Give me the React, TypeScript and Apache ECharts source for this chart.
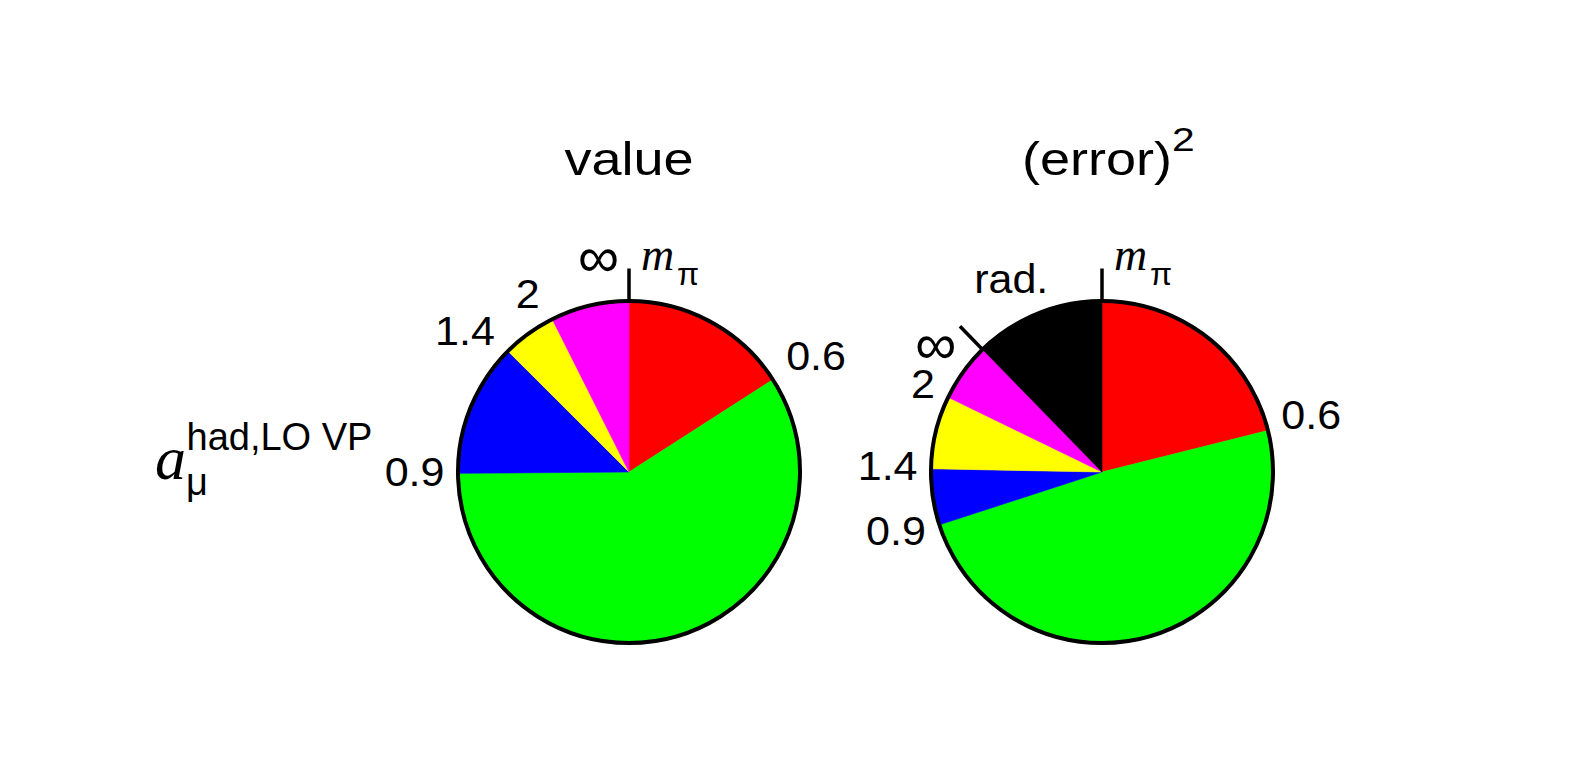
import React, { useEffect, useRef } from "react";
import * as echarts from "echarts";

// ---------- data ----------
const sliceColors = ["#ff0000", "#00ff00", "#0000ff", "#ffff00", "#ff00ff", "#000000"];
const valueSliceNames = ["mπ–0.6 GeV", "0.6–0.9 GeV", "0.9–1.4 GeV", "1.4–2 GeV", "2–∞ GeV"];
const valueShares = [15.9, 58.9, 12.6, 5.1, 7.4];
const errorSliceNames = ["mπ–0.6 GeV", "0.6–0.9 GeV", "0.9–1.4 GeV", "1.4–2 GeV", "2–∞ GeV", "rad."];
const errorShares = [21.1, 48.9, 5.3, 6.9, 5.5, 12.3];
const boundaryLabels = ["0.6", "0.9", "1.4", "2"];
const startLabel = ["m", "π"];
const endLabel = "∞";
const radLabel = "rad.";
const titleTexts = ["value", "(error)", "2"];
const yLabelParts = ["a", "μ", "had,LO VP"];

// ---------- layout / style ----------
const W = 1574;
const H = 765;
const R = 171;
const R_OUT = 172.5;
const SANS = '"Liberation Sans", Arial, Helvetica, sans-serif';
const SERIF = '"Liberation Serif", "Times New Roman", serif';
const LABEL_SIZE = 41;
const LABEL_SCALE = 1.05;
const TITLE_SIZE = 47;
const TITLE_SCALE = 1.15;

const pies = [
  { cx: 629, cy: 472, values: valueShares, names: valueSliceNames },
  { cx: 1102, cy: 472, values: errorShares, names: errorSliceNames },
];

let measureCtx: CanvasRenderingContext2D | null = null;
function textWidth(text: string, size: number, family: string) {
  if (!measureCtx) measureCtx = document.createElement("canvas").getContext("2d");
  if (!measureCtx) return text.length * size * 0.55;
  measureCtx.font = `${size}px ${family}`;
  return measureCtx.measureText(text).width;
}

function polar(cx: number, cy: number, r: number, deg: number) {
  const a = (deg * Math.PI) / 180;
  return [cx + r * Math.sin(a), cy - r * Math.cos(a)];
}

function txt(
  text: string,
  x: number,
  y: number,
  size: number,
  opts: { align?: string; family?: string; italic?: boolean; scaleX?: number } = {}
) {
  const align = opts.align || "center";
  return {
    type: "text",
    x,
    y,
    scaleX: opts.scaleX || 1,
    silent: true,
    style: {
      text,
      fill: "#000",
      fontSize: size,
      fontFamily: opts.family || SANS,
      fontStyle: opts.italic ? "italic" : "normal",
      align,
      textAlign: align,
      verticalAlign: "middle",
      textVerticalAlign: "middle",
    },
  };
}

function tick(cx: number, cy: number, deg: number) {
  const [x1, y1] = polar(cx, cy, R_OUT - 1, deg);
  const [x2, y2] = polar(cx, cy, R_OUT + 31, deg);
  return {
    type: "line",
    silent: true,
    z: 10,
    shape: { x1, y1, x2, y2 },
    style: { stroke: "#000", lineWidth: 3.5 },
  };
}

// label at a slice boundary: horizontally offset from the rim point, aligned away from the pie
function rimLabel(cx: number, cy: number, deg: number, text: string) {
  const a = (deg * Math.PI) / 180;
  const s = Math.sin(a);
  const c = Math.cos(a);
  const [bx, by] = polar(cx, cy, R_OUT, deg);
  const right = s > 0.001;
  const x = bx + (right ? 12 : -12);
  const y = by - 2 - 25 * c - (right ? 7 : 0);
  return txt(text, x, y, LABEL_SIZE, { align: right ? "left" : "right", scaleX: LABEL_SCALE });
}

// label for a whole slice, placed outside at its middle angle
function boxLabel(cx: number, cy: number, deg: number, text: string) {
  const w = textWidth(text, LABEL_SIZE, SANS) * LABEL_SCALE;
  const h = 0.72 * LABEL_SIZE;
  const a = (deg * Math.PI) / 180;
  const d = R_OUT + 12 + (w / 2) * Math.abs(Math.sin(a)) + (h / 2) * Math.abs(Math.cos(a));
  const [x, y] = polar(cx, cy, d, deg);
  return txt(text, x, y, LABEL_SIZE, { scaleX: LABEL_SCALE });
}

function buildOption() {
  const series: any[] = [];
  const graphic: any[] = [];

  pies.forEach((p, pi) => {
    series.push({
      type: "pie",
      center: [p.cx, p.cy],
      radius: R,
      startAngle: 90,
      clockwise: true,
      silent: true,
      label: { show: false },
      labelLine: { show: false },
      emphasis: { disabled: true },
      data: p.values.map((v, i) => ({
        value: v,
        name: p.names[i],
        itemStyle: { color: sliceColors[i], borderColor: sliceColors[i], borderWidth: 0.6 },
      })),
    });
    series.push({
      type: "pie",
      center: [p.cx, p.cy],
      radius: R,
      silent: true,
      z: 5,
      label: { show: false },
      labelLine: { show: false },
      emphasis: { disabled: true },
      data: [
        { value: 1, name: "outline", itemStyle: { color: "rgba(0,0,0,0)", borderColor: "#000", borderWidth: 4 } },
      ],
    });

    const total = p.values.reduce((s, v) => s + v, 0);
    const cum: number[] = [];
    let acc = 0;
    p.values.forEach((v) => {
      acc += v;
      cum.push((acc / total) * 360);
    });

    // start tick and m_pi
    graphic.push(tick(p.cx, p.cy, 0));
    graphic.push(txt(startLabel[0], p.cx + 12, p.cy - 218, 46, { align: "left", family: SERIF, italic: true }));
    graphic.push(txt(startLabel[1], p.cx + 48, p.cy - 198, 32, { align: "left" }));

    // boundary labels between first five slices
    boundaryLabels.forEach((lab, i) => {
      graphic.push(rimLabel(p.cx, p.cy, cum[i], lab));
    });

    // infinity at end of 5th slice
    const infDeg = cum[4];
    const infDist = 190 + 28 * Math.cos((infDeg * Math.PI) / 180);
    const [ix, iy] = polar(p.cx, p.cy, infDist, infDeg - 8);
    graphic.push(txt(endLabel, ix, iy, 58));
    if (pi === 1) {
      graphic.push(tick(p.cx, p.cy, infDeg));
      const mid = (cum[4] + cum[5]) / 2 - 3;
      graphic.push(boxLabel(p.cx, p.cy, mid, radLabel));
    }
  });

  // titles
  graphic.push(txt(titleTexts[0], pies[0].cx, 159, TITLE_SIZE, { scaleX: TITLE_SCALE }));
  graphic.push(txt(titleTexts[1], pies[1].cx + 70, 159, TITLE_SIZE, { align: "right", scaleX: TITLE_SCALE }));
  graphic.push(txt(titleTexts[2], pies[1].cx + 70, 139, 34, { align: "left", scaleX: 1.2 }));

  // a_mu^{had,LO VP}
  graphic.push(txt(yLabelParts[0], 155, 457.5, 62, { align: "left", family: SERIF, italic: true }));
  graphic.push(txt(yLabelParts[1], 186, 481.5, 38, { align: "left" }));
  graphic.push(txt(yLabelParts[2], 186.5, 437, 38, { align: "left" }));

  return {
    animation: false,
    backgroundColor: "#ffffff",
    series,
    graphic: { elements: graphic },
  };
}

export default function App() {
  const ref = useRef<HTMLDivElement>(null);
  useEffect(() => {
    if (!ref.current) return;
    const chart = echarts.init(ref.current, null, { renderer: "svg" });
    chart.setOption(buildOption() as any);
    return () => chart.dispose();
  }, []);
  return (
    <div
      ref={ref}
      style={{ position: "fixed", left: 0, top: 0, width: W, height: H, background: "#fff" }}
    />
  );
}
